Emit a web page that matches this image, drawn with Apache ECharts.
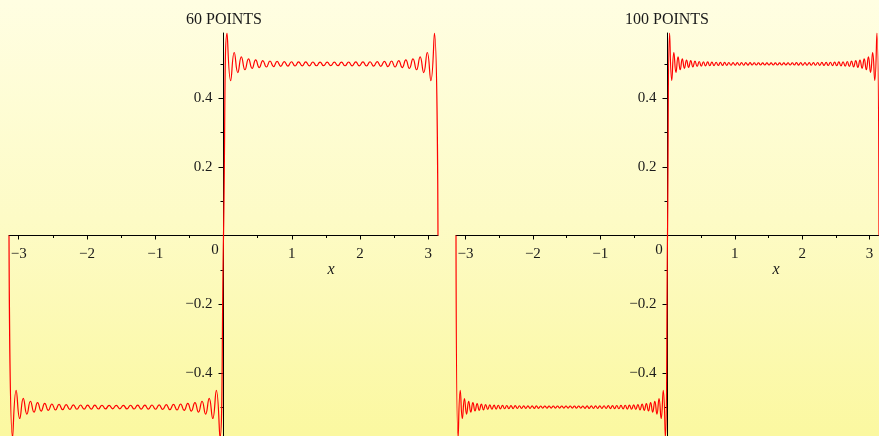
<!DOCTYPE html>
<html>
<head>
<meta charset="utf-8">
<script src="https://cdn.jsdelivr.net/npm/echarts@6/dist/echarts.min.js"></script>
<style>
  html, body { margin: 0; padding: 0; }
  #chart { width: 879px; height: 436px; background: linear-gradient(to bottom, #FFFEE2 0%, #FDFBC6 50%, #FBF8A0 100%); }
</style>
</head>
<body>
<div id="chart"></div>
<script>
// ---------- data ----------
const panelTitles = ['60 POINTS', '100 POINTS'];
const xMin = -Math.PI;
const xMax = Math.PI;
const xTickLabels = [-3, -2, -1, 1, 2, 3];
const xMinorTicks = [-2.5, -1.5, -0.5, 0.5, 1.5, 2.5];
const yTickLabels = [-0.4, -0.2, 0.2, 0.4];
const yMinorTicks = [-0.5, -0.3, -0.1, 0.1, 0.3, 0.5];

// curve values at evenly spaced samples from -pi to pi (60 POINTS panel)
const y60 = [
  0,
  -0.5895, -0.4513, -0.5332, -0.4748, -0.5203, -0.4829, -0.5147, -0.4870, -0.5117, -0.4894,
  -0.5097, -0.4910, -0.5084, -0.4921, -0.5075, -0.4929, -0.5068, -0.4934, -0.5063, -0.4939,
  -0.5060, -0.4942, -0.5057, -0.4944, -0.5055, -0.4946, -0.5054, -0.4947, -0.5053, -0.4947,
  -0.5053, -0.4947, -0.5054, -0.4946, -0.5055, -0.4944, -0.5057, -0.4942, -0.5060, -0.4939,
  -0.5063, -0.4934, -0.5068, -0.4929, -0.5075, -0.4921, -0.5084, -0.4910, -0.5097, -0.4894,
  -0.5117, -0.4870, -0.5147, -0.4829, -0.5203, -0.4748, -0.5332, -0.4513, -0.5895,
  0,
  0.5895, 0.4513, 0.5332, 0.4748, 0.5203, 0.4829, 0.5147, 0.4870, 0.5117, 0.4894,
  0.5097, 0.4910, 0.5084, 0.4921, 0.5075, 0.4929, 0.5068, 0.4934, 0.5063, 0.4939,
  0.5060, 0.4942, 0.5057, 0.4944, 0.5055, 0.4946, 0.5054, 0.4947, 0.5053, 0.4947,
  0.5053, 0.4947, 0.5054, 0.4946, 0.5055, 0.4944, 0.5057, 0.4942, 0.5060, 0.4939,
  0.5063, 0.4934, 0.5068, 0.4929, 0.5075, 0.4921, 0.5084, 0.4910, 0.5097, 0.4894,
  0.5117, 0.4870, 0.5147, 0.4829, 0.5203, 0.4748, 0.5332, 0.4513, 0.5895,
  0
];

// curve values at evenly spaced samples from -pi to pi (100 POINTS panel)
const y100 = [
  0,
  -0.5895, -0.4514, -0.5331, -0.4749, -0.5202, -0.4831, -0.5145, -0.4872, -0.5114, -0.4897,
  -0.5094, -0.4914, -0.5080, -0.4925, -0.5070, -0.4934, -0.5063, -0.4941, -0.5057, -0.4946,
  -0.5052, -0.4950, -0.5048, -0.4953, -0.5045, -0.4956, -0.5042, -0.4959, -0.5040, -0.4961,
  -0.5038, -0.4962, -0.5037, -0.4964, -0.5036, -0.4965, -0.5035, -0.4966, -0.5034, -0.4967,
  -0.5033, -0.4967, -0.5033, -0.4968, -0.5032, -0.4968, -0.5032, -0.4968, -0.5032, -0.4968,
  -0.5032, -0.4968, -0.5032, -0.4968, -0.5032, -0.4968, -0.5033, -0.4967, -0.5033, -0.4967,
  -0.5034, -0.4966, -0.5035, -0.4965, -0.5036, -0.4964, -0.5037, -0.4962, -0.5038, -0.4961,
  -0.5040, -0.4959, -0.5042, -0.4956, -0.5045, -0.4953, -0.5048, -0.4950, -0.5052, -0.4946,
  -0.5057, -0.4941, -0.5063, -0.4934, -0.5070, -0.4925, -0.5080, -0.4914, -0.5094, -0.4897,
  -0.5114, -0.4872, -0.5145, -0.4831, -0.5202, -0.4749, -0.5331, -0.4514, -0.5895,
  0,
  0.5895, 0.4514, 0.5331, 0.4749, 0.5202, 0.4831, 0.5145, 0.4872, 0.5114, 0.4897,
  0.5094, 0.4914, 0.5080, 0.4925, 0.5070, 0.4934, 0.5063, 0.4941, 0.5057, 0.4946,
  0.5052, 0.4950, 0.5048, 0.4953, 0.5045, 0.4956, 0.5042, 0.4959, 0.5040, 0.4961,
  0.5038, 0.4962, 0.5037, 0.4964, 0.5036, 0.4965, 0.5035, 0.4966, 0.5034, 0.4967,
  0.5033, 0.4967, 0.5033, 0.4968, 0.5032, 0.4968, 0.5032, 0.4968, 0.5032, 0.4968,
  0.5032, 0.4968, 0.5032, 0.4968, 0.5032, 0.4968, 0.5033, 0.4967, 0.5033, 0.4967,
  0.5034, 0.4966, 0.5035, 0.4965, 0.5036, 0.4964, 0.5037, 0.4962, 0.5038, 0.4961,
  0.5040, 0.4959, 0.5042, 0.4956, 0.5045, 0.4953, 0.5048, 0.4950, 0.5052, 0.4946,
  0.5057, 0.4941, 0.5063, 0.4934, 0.5070, 0.4925, 0.5080, 0.4914, 0.5094, 0.4897,
  0.5114, 0.4872, 0.5145, 0.4831, 0.5202, 0.4749, 0.5331, 0.4514, 0.5895,
  0
];

// ---------- chart ----------
const FONT = '"Liberation Serif", "Times New Roman", serif';
const INK = '#1a1a1a';
const yMin = -0.59, yMax = 0.59;

// pair each value with its sample position on the evenly spaced grid
function samples(ys) {
  const n = ys.length - 1;
  return ys.map((y, i) => [xMin + (xMax - xMin) * i / n, y]);
}
const minusFmt = v => String(v).replace('-', '\u2212');

const grids = [
  { left: 9, top: 33, width: 429, height: 405 },
  { left: 456, top: 33, width: 423, height: 405 }
];
// both ranges are symmetric about 0, so the axes cross at the middle of each grid
const xAxisShift = g => -grids[g].height / 2;
const yAxisShift = g => -grids[g].width / 2;

function xAxisOf(g, major) {
  return {
    type: 'value', gridIndex: g, min: xMin, max: xMax, position: 'bottom',
    offset: xAxisShift(g),
    axisLine: { show: major, onZero: false, lineStyle: { color: '#000', width: 1 } },
    axisTick: { show: true, customValues: major ? xTickLabels : xMinorTicks,
      length: major ? 4 : 2.5, lineStyle: { color: '#000' } },
    axisLabel: { show: major, customValues: xTickLabels, formatter: minusFmt, margin: 11,
      fontFamily: FONT, fontSize: 15, color: INK },
    splitLine: { show: false }
  };
}
function yAxisOf(g, major) {
  return {
    type: 'value', gridIndex: g, min: yMin, max: yMax, position: 'left',
    offset: yAxisShift(g),
    axisLine: { show: major, onZero: false, lineStyle: { color: '#000', width: 1 } },
    axisTick: { show: true, customValues: major ? yTickLabels : yMinorTicks,
      length: major ? 5 : 3, lineStyle: { color: '#000' } },
    axisLabel: { show: major, customValues: yTickLabels, formatter: minusFmt, margin: 11,
      fontFamily: FONT, fontSize: 15, color: INK },
    splitLine: { show: false }
  };
}

function curve(g, ys) {
  return {
    type: 'line', xAxisIndex: g, yAxisIndex: g, data: samples(ys),
    showSymbol: false, smooth: 0.5, clip: true,
    lineStyle: { color: '#ff0000', width: 1.2 },
    emphasis: { disabled: true }
  };
}

const txt = (x, y, text, extra) => ({
  type: 'text', x, y, silent: true,
  style: Object.assign({ text, font: '15px ' + FONT, fill: INK, align: 'center', verticalAlign: 'middle' }, extra || {})
});

const chart = echarts.init(document.getElementById('chart'), null, { renderer: 'canvas' });
chart.setOption({
  backgroundColor: 'transparent',
  animation: false,
  grid: grids.map(g => Object.assign({ containLabel: false, outerBoundsMode: 'none' }, g)),
  xAxis: [xAxisOf(0, true), xAxisOf(1, true), xAxisOf(0, false), xAxisOf(1, false)],
  yAxis: [yAxisOf(0, true), yAxisOf(1, true), yAxisOf(0, false), yAxisOf(1, false)],
  series: [curve(0, y60), curve(1, y100)],
  graphic: [
    txt(224, 20, panelTitles[0], { font: '16px ' + FONT }),
    txt(667, 20, panelTitles[1], { font: '16px ' + FONT }),
    txt(215, 250, '0'),
    txt(659, 250, '0'),
    txt(331, 270, 'x', { font: 'italic 16px ' + FONT }),
    txt(776, 270, 'x', { font: 'italic 16px ' + FONT })
  ]
});
</script>
</body>
</html>
